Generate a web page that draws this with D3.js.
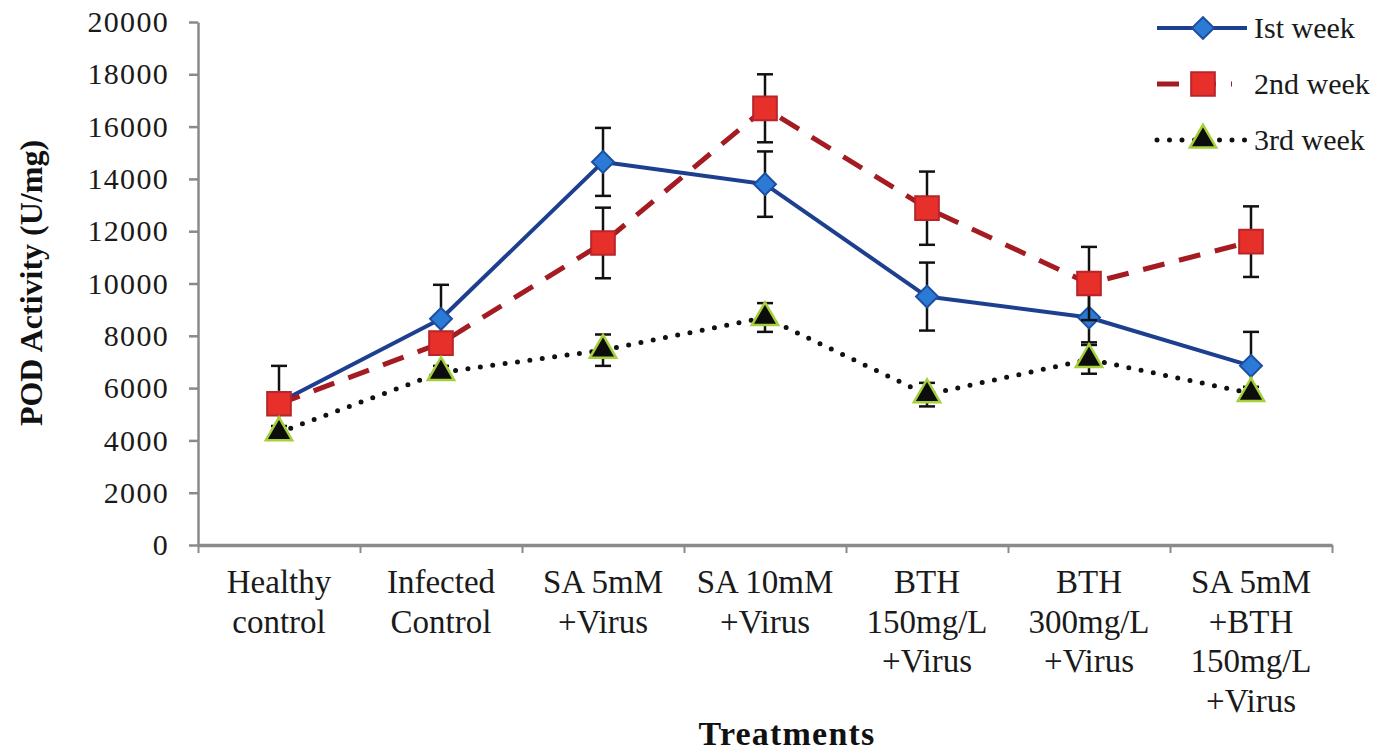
<!DOCTYPE html>
<html>
<head>
<meta charset="utf-8">
<script src="https://cdn.jsdelivr.net/npm/d3@7"></script>
<style>
  html, body { margin: 0; background: #fff; }
  svg { display: block; font-family: "Liberation Serif", "Times New Roman", serif; }
</style>
</head>
<body>
<svg id="chart" width="1397" height="753"></svg>
<script>
// Treatments (each entry holds the label lines)
const categories = [
  ["Healthy", "control"],
  ["Infected", "Control"],
  ["SA 5mM", "+Virus"],
  ["SA 10mM", "+Virus"],
  ["BTH", "150mg/L", "+Virus"],
  ["BTH", "300mg/L", "+Virus"],
  ["SA 5mM", "+BTH", "150mg/L", "+Virus"]
];
const seriesNames = ["Ist week", "2nd week", "3rd week"];

// POD activity (U/mg) and its error for each week
const week1 = [5450, 8650, 14650, 13800, 9500, 8700, 6850];
const week1Err = [1400, 1300, 1300, 1250, 1300, 950, 1300];
const week2 = [5400, 7720, 11550, 16700, 12880, 10000, 11600];
const week2Err = [300, 300, 1350, 1300, 1400, 1400, 1350];
const week3 = [4300, 6600, 7450, 8700, 5750, 7100, 5800];
const week3Err = [250, 250, 600, 550, 450, 550, 250];

const yTicks = [0, 2000, 4000, 6000, 8000, 10000, 12000, 14000, 16000, 18000, 20000];

const svg = d3.select("#chart");
const plotLeft = 198, plotRight = 1332, plotTop = 22, plotBottom = 545;

const x = d3.scaleBand().domain(d3.range(categories.length)).range([plotLeft, plotRight]);
const xEdge = d3.scaleLinear().domain([0, categories.length]).range([plotLeft, plotRight]);
const y = d3.scaleLinear().domain([0, 20000]).range([plotBottom, plotTop]);

const axisColor = "#8a8a8a";

// Y axis
const gy = svg.append("g").attr("transform", `translate(${plotLeft},0)`)
  .call(d3.axisLeft(y).tickValues(yTicks).tickSize(9).tickSizeOuter(0).tickPadding(20)
    .tickFormat(d3.format("d")));
gy.select(".domain").attr("stroke", axisColor).attr("stroke-width", 2.5);
gy.selectAll(".tick line").attr("stroke", axisColor).attr("stroke-width", 2.5);
gy.selectAll(".tick text")
  .attr("font-family", "Liberation Serif, serif")
  .attr("font-size", 30)
  .attr("letter-spacing", 1.3)
  .attr("fill", "#1a1a1a");

// X axis: tick marks at category boundaries
const gx = svg.append("g").attr("transform", `translate(0,${plotBottom})`)
  .call(d3.axisBottom(xEdge).tickValues(d3.range(categories.length + 1)).tickSize(8)
    .tickSizeOuter(0).tickFormat(""));
gx.select(".domain").attr("stroke", axisColor).attr("stroke-width", 3.5);
gx.selectAll(".tick line").attr("stroke", axisColor).attr("stroke-width", 2);

// Category labels
const catG = svg.append("g").attr("font-size", 33).attr("fill", "#1a1a1a").attr("text-anchor", "middle");
categories.forEach((lines, i) => {
  const t = catG.append("text").attr("x", x(i) + x.bandwidth() / 2).attr("y", 593);
  lines.forEach((ln, k) => {
    t.append("tspan").attr("x", x(i) + x.bandwidth() / 2).attr("dy", k === 0 ? 0 : 39.5).text(ln);
  });
});

// Axis titles
svg.append("text")
  .attr("x", (plotLeft + plotRight) / 2 + 22).attr("y", 745)
  .attr("text-anchor", "middle").attr("font-weight", "bold")
  .attr("font-size", 34).attr("letter-spacing", 1.2).attr("fill", "#111")
  .text("Treatments");

svg.append("text")
  .attr("transform", `translate(42,${283}) rotate(-90)`)
  .attr("text-anchor", "middle").attr("font-weight", "bold")
  .attr("font-size", 32).attr("fill", "#111")
  .text("POD Activity (U/mg)");

// Series styles
const series = [
  { name: seriesNames[0], values: week1, errs: week1Err, line: "#1d3f8f", width: 4, dash: null, cap: "butt",
    symbol: d3.symbolSquare, size: 240, rotate: 45, fill: "#2b7bd6", stroke: "#1d4ea0", sw: 2 },
  { name: seriesNames[1], values: week2, errs: week2Err, line: "#a41c22", width: 5, dash: "22,15", cap: "butt",
    symbol: d3.symbolSquare, size: 560, rotate: 0, fill: "#e8302a", stroke: "#b8252a", sw: 2 },
  { name: seriesNames[2], values: week3, errs: week3Err, line: "#111", width: 5, dash: "0,12.5", cap: "round",
    symbol: d3.symbolTriangle, size: 300, rotate: 0, fill: "#0d0d0d", stroke: "#a6d03a", sw: 2.5 }
];

const cx = i => x(i) + x.bandwidth() / 2;
const line = d3.line().x((d, i) => cx(i)).y(d => y(d));

series.forEach(s => {
  const g = svg.append("g");
  g.append("path")
    .attr("d", line(s.values))
    .attr("fill", "none")
    .attr("stroke", s.line)
    .attr("stroke-width", s.width)
    .attr("stroke-linecap", s.cap)
    .attr("stroke-linejoin", "round")
    .attr("stroke-dasharray", s.dash);

  // Error bars
  const eb = g.append("g").attr("stroke", "#111").attr("stroke-width", 2.5);
  s.values.forEach((v, i) => {
    const hi = y(v + s.errs[i]), lo = y(v - s.errs[i]);
    eb.append("line").attr("x1", cx(i)).attr("x2", cx(i)).attr("y1", hi).attr("y2", lo);
    eb.append("line").attr("x1", cx(i) - 8).attr("x2", cx(i) + 8).attr("y1", hi).attr("y2", hi);
    eb.append("line").attr("x1", cx(i) - 8).attr("x2", cx(i) + 8).attr("y1", lo).attr("y2", lo);
  });

  // Markers
  g.selectAll("path.mk").data(s.values).join("path")
    .attr("class", "mk")
    .attr("d", d3.symbol().type(s.symbol).size(s.size))
    .attr("transform", (d, i) => `translate(${cx(i)},${y(d)}) rotate(${s.rotate})`)
    .attr("fill", s.fill)
    .attr("stroke", s.stroke)
    .attr("stroke-width", s.sw);
});

// Legend
const legendRows = [28, 84, 140];
const lg = svg.append("g");
series.forEach((s, k) => {
  const ly = legendRows[k];
  lg.append("line")
    .attr("x1", 1157).attr("x2", s.dash === "22,15" ? 1232 : 1247)
    .attr("y1", ly).attr("y2", ly)
    .attr("stroke", s.line).attr("stroke-width", s.width)
    .attr("stroke-linecap", s.cap)
    .attr("stroke-dasharray", s.dash);
  lg.append("path")
    .attr("d", d3.symbol().type(s.symbol).size(s.size))
    .attr("transform", `translate(1203,${ly}) rotate(${s.rotate})`)
    .attr("fill", s.fill).attr("stroke", s.stroke).attr("stroke-width", s.sw);
  lg.append("text")
    .attr("x", 1254).attr("y", ly).attr("dy", "0.33em")
    .attr("font-size", 30).attr("fill", "#1a1a1a")
    .text(s.name);
});
</script>
</body>
</html>
